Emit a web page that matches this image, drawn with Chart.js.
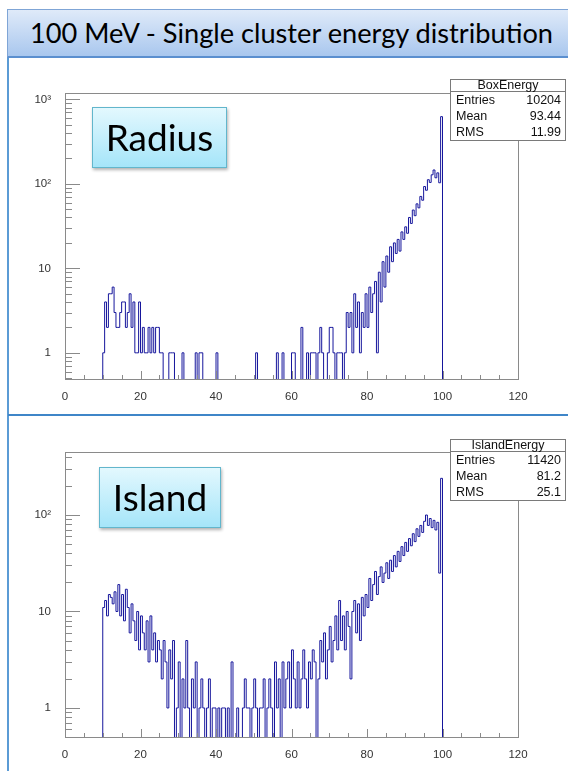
<!DOCTYPE html>
<html>
<head>
<meta charset="utf-8">
<script src="https://cdn.jsdelivr.net/npm/chart.js@4.4.0/dist/chart.umd.min.js"></script>
<style>
  body { margin: 0; background: #fff; width: 568px; height: 771px; overflow: hidden; position: relative; font-family: 'Liberation Sans', Arial, sans-serif; }
  .title { position: absolute; left: 7px; top: 9px; width: 580px; height: 49px; box-sizing: border-box;
    background: linear-gradient(#dfeaf9, #a9c7ee); border: 1px solid #7fa5d6; border-bottom: 2px solid #5b8fcf;
    font-family: Lato, sans-serif; font-size: 27.2px; line-height: 46px; padding-left: 22px; color: #000; white-space: nowrap; }
  .vline { position: absolute; left: 7px; top: 9px; width: 2px; height: 762px; background: #5b9bd5; }
  .hline { position: absolute; left: 8px; top: 414px; width: 560px; height: 2px; background: #3f86c8; }
  canvas { position: absolute; left: 0; }
  .tag { position: absolute; box-sizing: border-box; background: linear-gradient(#e3f8fe, #a5e5f9); border: 1px solid #62b6cc;
    box-shadow: 1px 2px 3px rgba(0,0,0,0.3); font-family: Lato, sans-serif; font-size: 37px; text-align: center; color: #000; }
  .stats { position: absolute; left: 450px; width: 116px; box-sizing: border-box; background: #fff; border: 1px solid #7a7a7a;
    font-size: 12.5px; color: #111; }
  .stats .hd { text-align: center; height: 11px; line-height: 11px; border-bottom: 1px solid #7a7a7a; }
  .stats .row { display: flex; justify-content: space-between; height: 16px; line-height: 16px; padding: 0 4px 0 5px; }
</style>
</head>
<body>
<div class="vline"></div>
<div class="title">100 MeV - Single cluster energy distribution</div>
<div class="hline"></div>

<canvas id="radiusChart" width="568" height="354" style="top:60px"></canvas>
<canvas id="islandChart" width="568" height="357" style="top:414px"></canvas>

<div class="tag" style="left:92px; top:107px; width:135px; height:61px; line-height:58px;">Radius</div>
<div class="tag" style="left:99px; top:467px; width:122px; height:61px; line-height:58px;">Island</div>

<div class="stats" style="top:79px">
  <div class="hd">BoxEnergy</div>
  <div class="row"><span>Entries</span><span>10204</span></div>
  <div class="row"><span>Mean</span><span>93.44</span></div>
  <div class="row"><span>RMS</span><span>11.99</span></div>
</div>
<div class="stats" style="top:439px">
  <div class="hd">IslandEnergy</div>
  <div class="row"><span>Entries</span><span>11420</span></div>
  <div class="row"><span>Mean</span><span>81.2</span></div>
  <div class="row"><span>RMS</span><span>25.1</span></div>
</div>

<script>
// histogram bins: 0.5 MeV wide, first bin starts at 10 MeV
const binStart = 10;
const binWidth = 0.5;

const radiusCounts = [
  1, 4, 2, 5, 5, 6, 3, 2, 2, 3,          // 10 - 14.5
  4, 4, 2, 3, 5, 2, 4, 1, 1, 4,          // 15 - 19.5
  1, 2, 1, 1, 2, 1, 2, 1, 2, 2,          // 20
  1, 1, 0, 0, 0, 1, 1, 1, 0, 0,          // 25
  0, 0, 1, 0, 0, 0, 0, 0, 0, 1,          // 30
  0, 1, 1, 0, 0, 0, 0, 0, 0, 0,          // 35
  1, 0, 0, 0, 0, 0, 0, 0, 0, 0,          // 40
  0, 0, 0, 0, 0, 0, 0, 0, 0, 0,          // 45
  0, 1, 0, 0, 0, 0, 0, 0, 0, 0,          // 50
  0, 0, 1, 0, 0, 1, 0, 0, 0, 0,          // 55
  1, 1, 0, 0, 0, 2, 0, 0, 1, 0,          // 60
  1, 1, 1, 0, 1, 2, 1, 0, 0, 1,          // 65
  2, 2, 1, 0, 1, 1, 1, 0, 1, 3,          // 70
  2, 3, 1, 5, 2, 4, 1, 3, 2, 5,          // 75
  2, 6, 3, 5, 7, 1, 9, 4, 12, 6,         // 80
  14, 9, 18, 12, 20, 15, 22, 16, 27, 22,  // 85
  31, 26, 40, 34, 49, 42, 58, 52, 71, 64, // 90
  93, 84, 112, 104, 128, 146, 118, 135, 103, 625 // 95 - 99.5
];

const islandCounts = [
  11, 13, 9, 15, 14, 12, 16, 10, 19, 9,  // 10 - 14.5
  15, 8, 17, 11, 6, 12, 8, 5, 10, 4,     // 15
  9, 6, 4, 8, 3, 9, 4, 6, 3, 5,          // 20
  4, 2, 5, 3, 1, 4, 2, 5, 0, 1,          // 25
  3, 0, 2, 1, 5, 1, 0, 2, 1, 3,          // 30
  0, 1, 2, 1, 0, 1, 2, 0, 1, 1,          // 35
  0, 1, 0, 1, 1, 0, 1, 0, 3, 0,          // 40
  0, 1, 0, 0, 1, 2, 1, 1, 0, 1,          // 45
  2, 1, 0, 1, 1, 2, 0, 1, 2, 1,          // 50
  0, 3, 1, 2, 0, 3, 1, 2, 3, 1,          // 55
  4, 2, 1, 3, 1, 2, 4, 2, 1, 3,          // 60
  2, 4, 3, 0, 2, 5, 3, 6, 2, 4,          // 65
  7, 3, 5, 9, 4, 13, 5, 9, 4, 10,        // 70
  7, 2, 10, 13, 6, 12, 5, 14, 9, 15,     // 75
  11, 22, 13, 19, 26, 15, 23, 29, 20, 25, // 80
  32, 22, 34, 26, 38, 29, 42, 33, 47, 38, // 85
  52, 42, 57, 48, 64, 53, 72, 60, 78, 66, // 90
  86, 100, 78, 92, 74, 88, 70, 84, 25, 240 // 95 - 99.5
];

const xTicks = [0, 20, 40, 60, 80, 100, 120];
const yTickLabels = { 1: '1', 10: '10', 100: '10²', 1000: '10³' };

Chart.defaults.font.family = "'Liberation Sans', Arial, sans-serif";
Chart.defaults.color = '#333';

// empty bins go below the axis minimum so the step drops out of the frame
const EMPTY = 0.1;
const histPoints = counts => {
  const pts = [{ x: binStart, y: EMPTY }];
  counts.forEach((c, i) => pts.push({ x: binStart + i * binWidth, y: c > 0 ? c : EMPTY }));
  pts.push({ x: binStart + counts.length * binWidth, y: EMPTY });
  return pts;
};

// ROOT-like frame with ticks pointing into the pad
const rootAxes = {
  id: 'rootAxes',
  afterDatasetsDraw(chart) {
    const { ctx, chartArea: a, scales: { x, y } } = chart;
    ctx.save();
    ctx.strokeStyle = '#8a8a8a';
    ctx.lineWidth = 1;
    ctx.strokeRect(Math.round(a.left) + 0.5, Math.round(a.top) + 0.5, Math.round(a.right - a.left), Math.round(a.bottom - a.top));
    ctx.beginPath();
    for (let v = x.min; v <= x.max; v += 5) {
      const px = Math.round(x.getPixelForValue(v)) + 0.5;
      const len = v % 20 === 0 ? 8 : 4;
      ctx.moveTo(px, a.bottom);
      ctx.lineTo(px, a.bottom - len);
    }
    for (let d = -1; d <= 3; d++) {
      for (let m = 1; m <= 9; m++) {
        const v = m * Math.pow(10, d);
        if (v < y.min || v > y.max) continue;
        const py = Math.round(y.getPixelForValue(v)) + 0.5;
        ctx.moveTo(a.left, py);
        ctx.lineTo(a.left + (m === 1 ? 15 : 7), py);
      }
    }
    ctx.stroke();
    ctx.restore();
  }
};

const makeHist = (id, counts, yMin, yMax, padTop, xHeight) => new Chart(document.getElementById(id), {
  type: 'line',
  data: {
    datasets: [{
      data: histPoints(counts),
      borderColor: '#16169c',
      borderWidth: 1,
      pointRadius: 0,
      stepped: true,
      fill: false
    }]
  },
  options: {
    responsive: false,
    animation: false,
    layout: { padding: { top: padTop, right: 50, left: 0, bottom: 0 } },
    plugins: { legend: { display: false }, tooltip: { enabled: false } },
    scales: {
      x: {
        type: 'linear',
        min: 0,
        max: 120,
        grid: { display: false },
        border: { display: false },
        afterBuildTicks: s => { s.ticks = xTicks.map(v => ({ value: v })); },
        afterFit: s => { s.height = xHeight; },
        ticks: { font: { size: 11.5 }, padding: 3, maxRotation: 0 }
      },
      y: {
        type: 'logarithmic',
        min: yMin,
        max: yMax,
        grid: { display: false },
        border: { display: false },
        afterBuildTicks: s => { s.ticks = Object.keys(yTickLabels).map(Number).filter(v => v <= yMax).map(v => ({ value: v })); },
        afterFit: s => { s.width = 65; },
        ticks: { font: { size: 11.5 }, padding: 6, callback: v => yTickLabels[v] }
      }
    }
  },
  plugins: [rootAxes]
});

makeHist('radiusChart', radiusCounts, 0.49, 1190, 33, 35);
makeHist('islandChart', islandCounts, 0.5, 450, 38, 34);
</script>
</body>
</html>
